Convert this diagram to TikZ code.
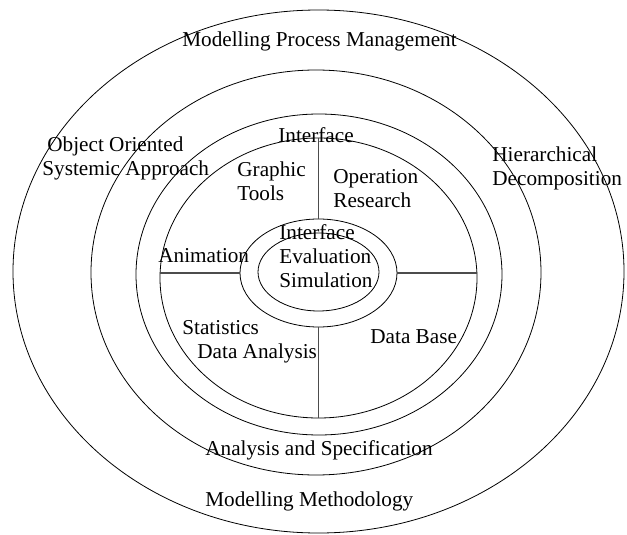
\documentclass[tikz,border=0pt]{standalone}
\usepackage{fontspec}
\setmainfont{Liberation Serif}
\usetikzlibrary{shapes.geometric}
\tikzset{
  ring/.style={draw, ellipse, inner sep=0pt, outer sep=0pt},
  lbl/.style={inner sep=0pt, align=left, anchor=base west,
    font=\fontsize{10.6}{12}\selectfont},
  divider/.style={draw=black!70, line width=0.6pt}
}
\begin{document}
\begin{tikzpicture}[x=0.5pt, y=-0.5pt]
    \useasboundingbox (0,0) rectangle (627,535);
    % rings, outside in
    \node [ring, minimum width=305.5pt, minimum height=261.5pt] (process) at (318.5,271.5) {};
    \node [ring, minimum width=225pt, minimum height=202.5pt] (method) at (316,272.5) {};
    \node [ring, minimum width=183pt, minimum height=160.5pt] (spec) at (319,274.5) {};
    \node [ring, minimum width=158.5pt, minimum height=140pt] (tools) at (318.5,278) {};
    \node [ring, minimum width=78.5pt, minimum height=54pt] (hub) at (318.5,273) {};
    \node [ring, minimum width=60.5pt, minimum height=39pt] (core) at (318.5,272) {};
    % quarters
    \draw [divider] (hub.north) -- (tools.north);
    \draw [divider] (hub.south) -- (tools.south);
    \draw [divider] (hub.west) -- (hub.west -| tools.west);
    \draw [divider] (hub.east) -- (hub.east -| tools.east);
    % labels (multi-line ones sit on their last line)
    \node [lbl, anchor=base] (mpm) at (319.5,47) {Modelling Process Management};
    \node [lbl] (ooa) at (42,176) {\hspace*{2.5pt}Object Oriented\\Systemic Approach};
    \node [lbl, anchor=base] (itf) at (316,143) {Interface};
    \node [lbl] (gfx) at (237,200) {Graphic\\Tools};
    \node [lbl] (opr) at (333,207) {Operation\\Research};
    \node [lbl] (hdc) at (492,185) {Hierarchical\\Decomposition};
    \node [lbl] (sim) at (279,287) {Interface\\Evaluation\\Simulation};
    \node [lbl] (ani) at (158,263) {Animation};
    \node [lbl] (sta) at (182,358) {Statistics\\\hspace*{7.5pt}Data Analysis};
    \node [lbl] (dbs) at (370,343) {Data Base};
    \node [lbl] (ans) at (205,455) {Analysis and Specification};
    \node [lbl] (mme) at (205,506) {Modelling Methodology};
  \end{tikzpicture}
\end{document}
